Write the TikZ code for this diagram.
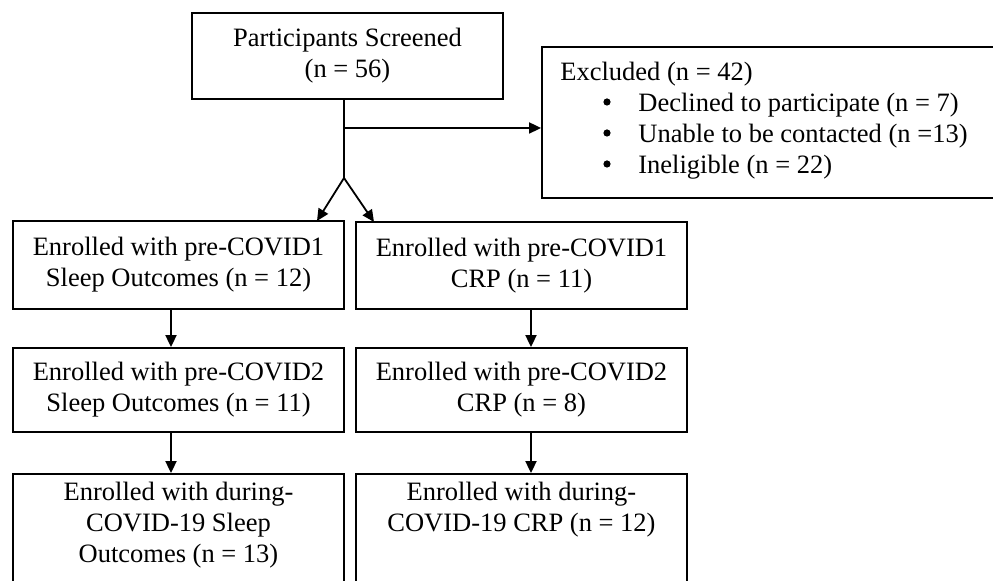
\documentclass[tikz,border=0pt]{standalone}
\usepackage{fontspec}
\setmainfont{Liberation Serif}
\usetikzlibrary{arrows.meta}
\newcommand\diagfont{\fontsize{13.25pt}{15.5pt}\selectfont}
\begin{document}
\begin{tikzpicture}[x=0.5pt,y=-0.5pt,
  box/.style={draw, line width=0.9pt, inner sep=0pt, align=center, font=\diagfont},
  txt/.style={inner sep=0pt, font=\diagfont},
  conn/.style={line width=0.9pt},
  bul/.style={fill=black},
  arr/.style={line width=0.9pt, -{Triangle[length=6pt,width=5.5pt]}}]
\useasboundingbox (0,0) rectangle (993,581);
\clip (0,0) rectangle (993,581);
% boxes
\node[box, minimum width=155.75pt, minimum height=43pt] (top) at (347.5,56) {Participants Screened\\(n = 56)};
\node[box, minimum width=231.5pt, minimum height=75.5pt] (excl) at (773.5,122.5) {};
\node[txt, anchor=west, align=left] (excltxt) at (560,121) {Excluded (n = 42)\\
\hspace*{39pt}Declined to participate (n = 7)\\
\hspace*{39pt}Unable to be contacted (n =13)\\
\hspace*{39pt}Ineligible (n = 22)};
\fill[bul] (607,102) circle (3.6);
\fill[bul] (607,133) circle (3.6);
\fill[bul] (607,164) circle (3.6);
\node[box, minimum width=165.5pt, minimum height=44pt] (l1) at (178.5,265) {Enrolled with pre-COVID1\\Sleep Outcomes (n = 12)};
\node[box, minimum width=165.5pt, minimum height=42pt] (l2) at (178.5,390) {Enrolled with pre-COVID2\\Sleep Outcomes (n = 11)};
\node[box, minimum width=165.5pt, minimum height=68pt] (l3) at (178.5,542) {};
\node[txt, align=center] (l3t) at (178.5,525) {Enrolled with during-\\COVID-19 Sleep\\Outcomes (n = 13)};
\node[box, minimum width=165.5pt, minimum height=43.5pt] (r1) at (521.5,265.5) {Enrolled with pre-COVID1\\CRP (n = 11)};
\node[box, minimum width=165.5pt, minimum height=42pt] (r2) at (521.5,390) {Enrolled with pre-COVID2\\CRP (n = 8)};
\node[box, minimum width=165.5pt, minimum height=68pt] (r3) at (521.5,542) {};
\node[txt, align=center] (r3t) at (521.5,510) {Enrolled with during-\\COVID-19 CRP (n = 12)};
% coordinates
\coordinate (split) at (344,178);
\coordinate (bend) at (344,128);
\coordinate (l1in) at (317,221);
\coordinate (r1in) at (374,222);
\coordinate (lx) at (171,0);
\coordinate (rx) at (531,0);
% connectors
\draw[conn] (top.south -| split) -- (split);
\draw[arr] (bend) -- (bend -| excl.west);
\draw[arr] (split) -- (l1in);
\draw[arr] (split) -- (r1in);
\draw[arr] (l1.south -| lx) -- (l2.north -| lx);
\draw[arr] (l2.south -| lx) -- (l3.north -| lx);
\draw[arr] (r1.south -| rx) -- (r2.north -| rx);
\draw[arr] (r2.south -| rx) -- (r3.north -| rx);
\end{tikzpicture}
\end{document}
